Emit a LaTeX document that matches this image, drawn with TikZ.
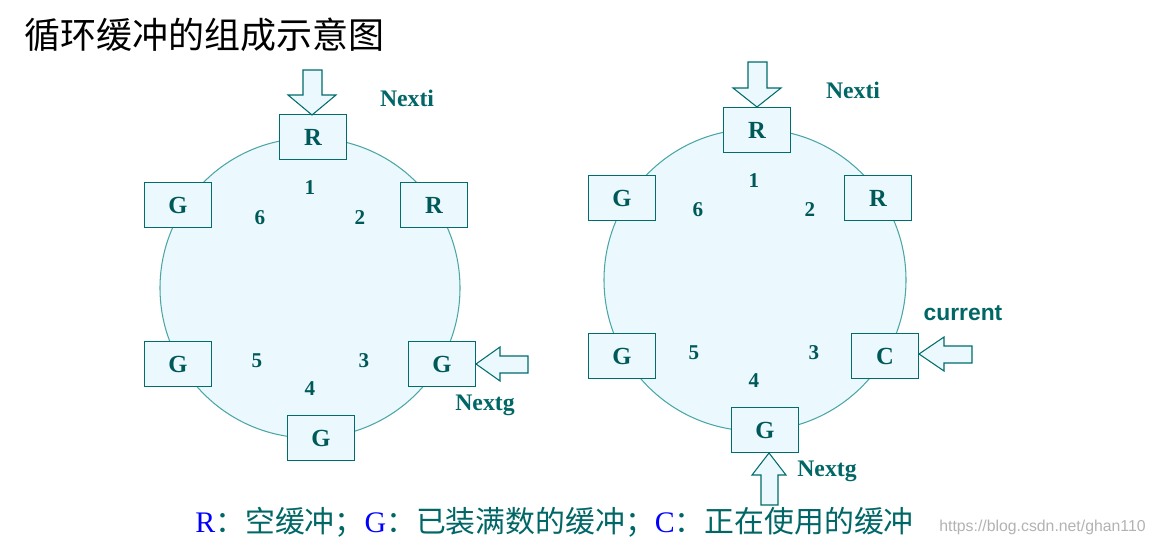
\documentclass[tikz,border=0pt]{standalone}
\usepackage{fontspec}
\setmainfont{Liberation Serif}
\newfontfamily\cjk{Noto Sans CJK SC}
\newfontfamily\sans{Liberation Sans}
\begin{document}
\begin{tikzpicture}[x=0.02cm,y=-0.02cm,
  ring/.style={draw=teal!70!white,fill=cyan!8!white,line width=0.6pt},
  buf/.style={draw=teal!85!black,fill=cyan!8!white,line width=0.7pt,minimum width=68*0.567pt,minimum height=45*0.567pt,inner sep=0pt,font=\fontsize{14}{14}\bfseries,text=teal!70!black},
  num/.style={font=\fontsize{12}{12}\bfseries,text=teal!70!black},
  lab/.style={font=\fontsize{13.5}{13.5}\bfseries,text=teal!80!black},
  blk/.style={draw=teal!85!black,fill=cyan!8!white,line width=0.6pt}]
\useasboundingbox (0,0) rectangle (1153,547);
\node[anchor=west,font=\cjk\fontsize{20.5}{20.5}\selectfont,inner sep=0pt] (title) at (24,35) {循环缓冲的组成示意图};
% left
\draw[ring] (310,288) circle (150);
\node[buf] (l1) at (313,137) {R};
\node[buf] (l6) at (178,205) {G};
\node[buf] (l2) at (434,205) {R};
\node[buf] (l5) at (178,364) {G};
\node[buf] (l3) at (442,364) {G};
\node[buf] (l4) at (321,438) {G};
\node[num] (n1) at (310,188) {1};
\node[num] (n2) at (360,218) {2};
\node[num] (n6) at (260,218) {6};
\node[num] (n5) at (257,361) {5};
\node[num] (n3) at (364,361) {3};
\node[num] (n4) at (310,389) {4};
\draw[blk] (303,70) -- (322,70) -- (322,95) -- (336,95) -- (312,115) -- (288,95) -- (303,95) -- cycle;
\draw[blk] (528,356) -- (528,373) -- (500,373) -- (500,381) -- (476,364) -- (500,347) -- (500,356) -- cycle;
\node[lab] (nexti1) at (407,98) {Nexti};
\node[lab] (nextg1) at (485,405) {Nextg};
% right
\draw[ring] (755,280) circle (151);
\node[buf] (r1) at (757,130) {R};
\node[buf] (r6) at (622,198) {G};
\node[buf] (r2) at (878,198) {R};
\node[buf] (r5) at (622,356) {G};
\node[buf] (r3) at (885,356) {C};
\node[buf] (r4) at (765,430) {G};
\node[num] at (754,181) {1};
\node[num] at (810,210) {2};
\node[num] at (698,210) {6};
\node[num] at (694,353) {5};
\node[num] at (814,353) {3};
\node[num] at (754,381) {4};
\draw[blk] (748,62) -- (767,62) -- (767,88) -- (781,88) -- (757,107) -- (733,88) -- (748,88) -- cycle;
\draw[blk] (972,346) -- (972,363) -- (944,363) -- (944,371) -- (919,354) -- (944,337) -- (944,346) -- cycle;
\draw[blk] (761,505) -- (778,505) -- (778,475) -- (786,475) -- (769,453) -- (752,475) -- (761,475) -- cycle;
\node[lab] (nexti2) at (853,90) {Nexti};
\node[lab,font=\sans\fontsize{13}{13}\bfseries] (cur) at (963,313) {current};
\node[lab] (nextg2) at (827,471) {Nextg};
% legend
\node[anchor=base west,font=\fontsize{17}{17}\selectfont,inner sep=0pt] (leg) at (195,532)
 {\textcolor{blue}{R}\textcolor{teal!80!black}{\cjk ：空缓冲；}\textcolor{blue}{G}\textcolor{teal!80!black}{\cjk ：已装满数的缓冲；}\textcolor{blue}{C}\textcolor{teal!80!black}{\cjk ：正在使用的缓冲}};
\node[anchor=base east,font=\sans\fontsize{9}{9}\selectfont,text=gray!60,inner sep=0pt] (wm) at (1146,531) {https://blog.csdn.net/ghan110};
\end{tikzpicture}
\end{document}
